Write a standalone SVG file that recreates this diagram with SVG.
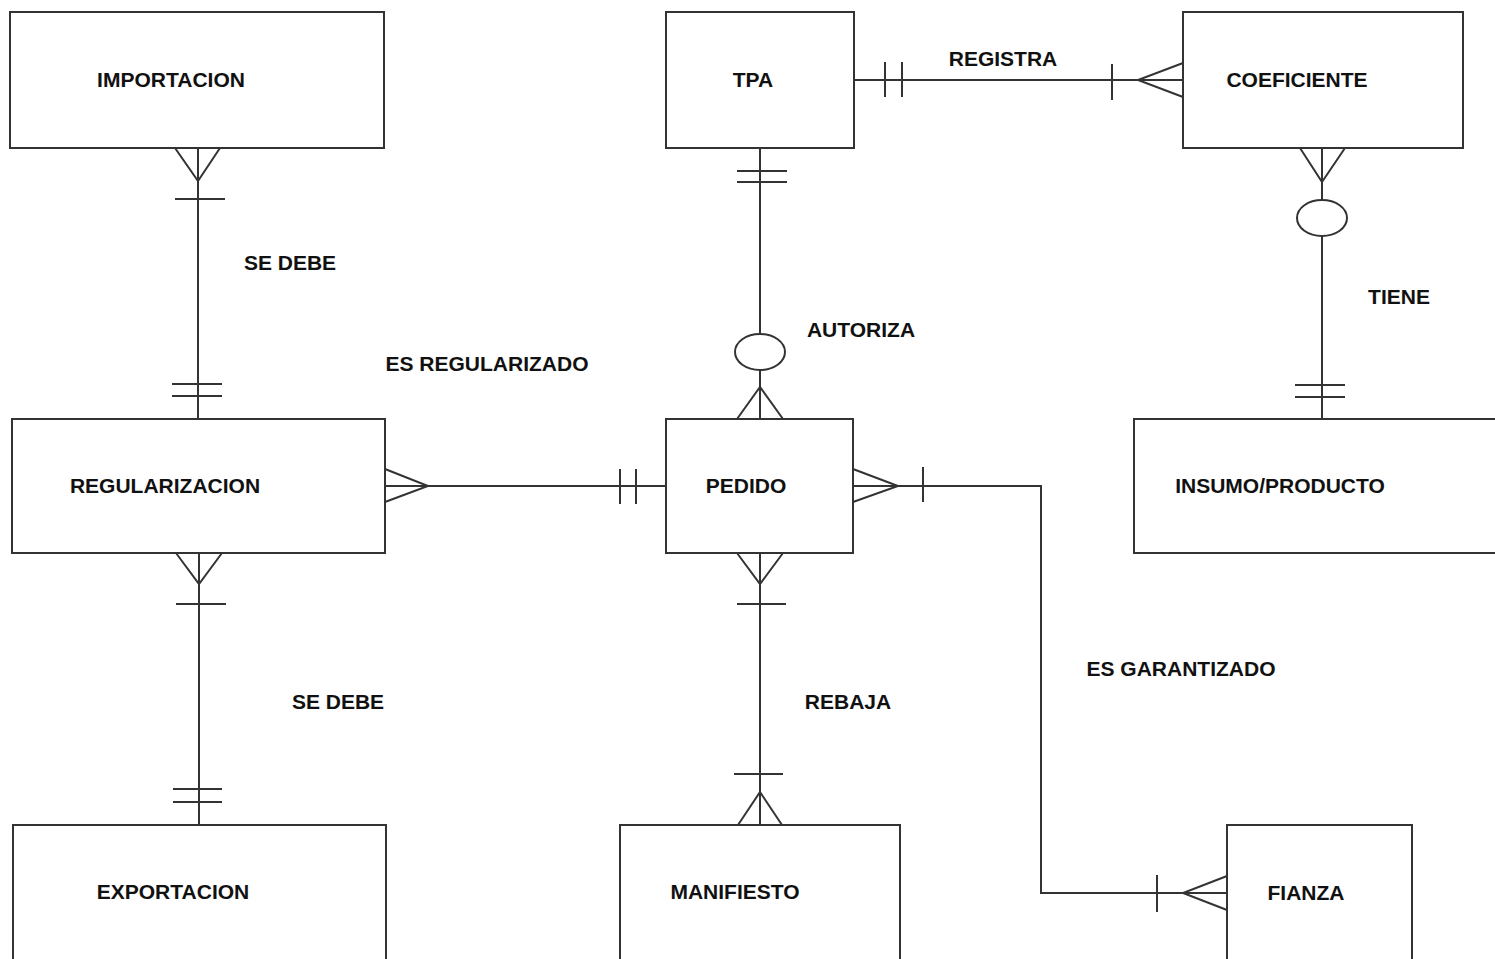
<svg xmlns="http://www.w3.org/2000/svg" width="1495" height="959" viewBox="0 0 1495 959">
<style>
.box{fill:#fff;stroke:#333;stroke-width:2}
.ln{fill:none;stroke:#333;stroke-width:2}
.t{font-family:"Liberation Sans",Arial,sans-serif;font-size:21px;font-weight:bold;fill:#111;text-anchor:middle}
</style>
<rect width="1495" height="959" fill="#fff"/>
<g id="connectors" class="ln">
<!-- IMPORTACION - REGULARIZACION -->
<path d="M198 148V419M175 148L198 181L220 148M175 199H225M172 384H222M172 396H222"/>
<!-- TPA - PEDIDO -->
<path d="M760 148V334M737 171H787M737 182H787M760 370V419M737 419L760 387L783 419"/>
<ellipse cx="760" cy="352" rx="25" ry="18"/>
<!-- TPA - COEFICIENTE -->
<path d="M854 80H1183M885 62V97M902 62V97M1112 64V100M1183 63L1138 80L1183 97"/>
<!-- COEFICIENTE - INSUMO -->
<path d="M1322 148V200M1300 148L1322 182L1345 148M1322 236V419M1295 385H1345M1295 397H1345"/>
<ellipse cx="1322" cy="218" rx="25" ry="18"/>
<!-- REGULARIZACION - PEDIDO -->
<path d="M385 486H666M385 469L428 486L385 502M620 469V504M636 469V504"/>
<!-- PEDIDO - FIANZA -->
<path d="M853 486H1041V893H1227M853 469L898 486L853 502M923 467V502M1157 875V912M1227 876L1183 893L1227 910"/>
<!-- REGULARIZACION - EXPORTACION -->
<path d="M199 553V825M176 553L199 584L222 553M176 604H226M173 789H222M173 802H222"/>
<!-- PEDIDO - MANIFIESTO -->
<path d="M760 553V825M737 553L760 584L783 553M737 604H786M734 774H783M738 825L760 792L782 825"/>
</g>
<g id="importacion"><rect class="box" x="10" y="12" width="374" height="136"/><text class="t" x="171" y="87">IMPORTACION</text></g>
<g id="tpa"><rect class="box" x="666" y="12" width="188" height="136"/><text class="t" x="753" y="87">TPA</text></g>
<g id="coeficiente"><rect class="box" x="1183" y="12" width="280" height="136"/><text class="t" x="1297" y="87">COEFICIENTE</text></g>
<g id="regularizacion"><rect class="box" x="12" y="419" width="373" height="134"/><text class="t" x="165" y="493">REGULARIZACION</text></g>
<g id="pedido"><rect class="box" x="666" y="419" width="187" height="134"/><text class="t" x="746" y="493">PEDIDO</text></g>
<g id="insumo"><rect class="box" x="1134" y="419" width="370" height="134"/><text class="t" x="1280" y="493">INSUMO/PRODUCTO</text></g>
<g id="exportacion"><rect class="box" x="13" y="825" width="373" height="145"/><text class="t" x="173" y="899">EXPORTACION</text></g>
<g id="manifiesto"><rect class="box" x="620" y="825" width="280" height="145"/><text class="t" x="735" y="899">MANIFIESTO</text></g>
<g id="fianza"><rect class="box" x="1227" y="825" width="185" height="145"/><text class="t" x="1306" y="900">FIANZA</text></g>
<g id="labels">
<text class="t" x="1003" y="66">REGISTRA</text>
<text class="t" x="290" y="270">SE DEBE</text>
<text class="t" x="487" y="371">ES REGULARIZADO</text>
<text class="t" x="861" y="337">AUTORIZA</text>
<text class="t" x="1399" y="304">TIENE</text>
<text class="t" x="1181" y="676">ES GARANTIZADO</text>
<text class="t" x="338" y="709">SE DEBE</text>
<text class="t" x="848" y="709">REBAJA</text>
</g>
</svg>
